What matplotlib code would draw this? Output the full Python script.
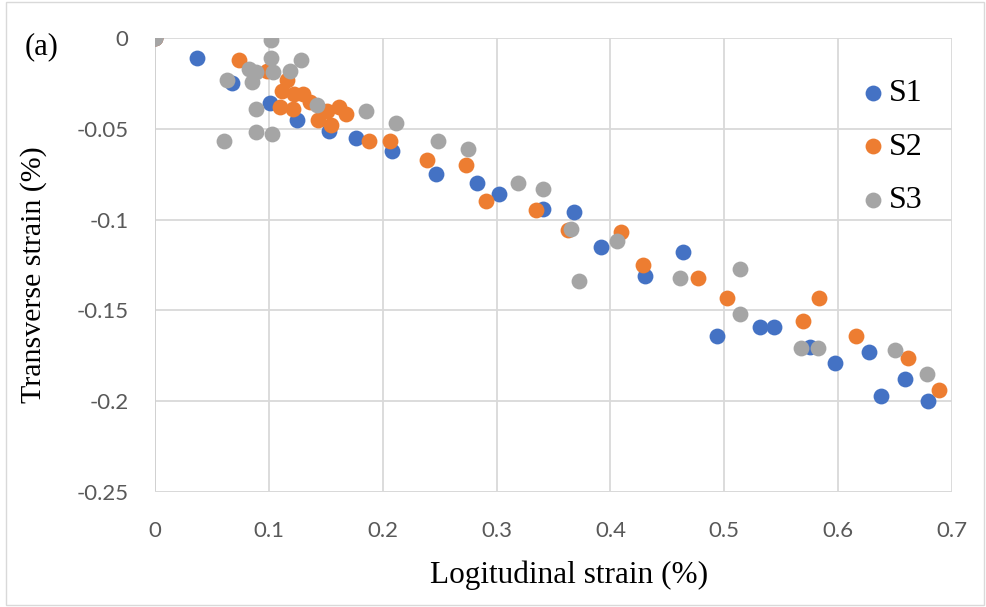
import numpy as np
import matplotlib.pyplot as plt
from matplotlib.patches import Rectangle

# S1
s1_x = [0, 0.037, 0.068, 0.101, 0.125, 0.153, 0.177, 0.208, 0.247, 0.283, 0.302,
        0.341, 0.368, 0.392, 0.430, 0.464, 0.494, 0.531, 0.544, 0.575, 0.597,
        0.627, 0.638, 0.659, 0.679]
s1_y = [0, -0.011, -0.025, -0.036, -0.045, -0.051, -0.055, -0.062, -0.075, -0.080, -0.086,
        -0.094, -0.096, -0.115, -0.131, -0.118, -0.164, -0.159, -0.159, -0.170, -0.179,
        -0.173, -0.197, -0.188, -0.200]

# S2
s2_x = [0, 0.074, 0.098, 0.116, 0.112, 0.122, 0.130, 0.136, 0.110, 0.121, 0.143,
        0.155, 0.151, 0.162, 0.168, 0.188, 0.206, 0.239, 0.273, 0.291, 0.335,
        0.363, 0.409, 0.429, 0.477, 0.502, 0.583, 0.569, 0.616, 0.661, 0.689]
s2_y = [0, -0.012, -0.018, -0.023, -0.029, -0.031, -0.031, -0.035, -0.038, -0.039, -0.045,
        -0.048, -0.040, -0.038, -0.042, -0.057, -0.057, -0.067, -0.070, -0.090, -0.095,
        -0.106, -0.107, -0.125, -0.132, -0.143, -0.143, -0.156, -0.164, -0.176, -0.194]

# S3
s3_x = [0, 0.102, 0.102, 0.128, 0.083, 0.089, 0.104, 0.119, 0.063, 0.085, 0.089,
        0.142, 0.185, 0.089, 0.103, 0.061, 0.212, 0.249, 0.275, 0.319, 0.341,
        0.365, 0.372, 0.406, 0.461, 0.514, 0.514, 0.567, 0.582, 0.650, 0.678]
s3_y = [0, -0.001, -0.011, -0.012, -0.017, -0.019, -0.019, -0.018, -0.023, -0.024, -0.039,
        -0.037, -0.040, -0.052, -0.053, -0.057, -0.047, -0.057, -0.061, -0.080, -0.083,
        -0.105, -0.134, -0.112, -0.132, -0.127, -0.152, -0.171, -0.171, -0.172, -0.185]

series = ["S1", "S2", "S3"]
colors = ["#4472C4", "#ED7D31", "#A5A5A5"]

x_ticks = [0, 0.1, 0.2, 0.3, 0.4, 0.5, 0.6, 0.7]
x_labels = ["0", "0.1", "0.2", "0.3", "0.4", "0.5", "0.6", "0.7"]
y_ticks = [0, -0.05, -0.1, -0.15, -0.2, -0.25]
y_labels = ["0", "-0.05", "-0.1", "-0.15", "-0.2", "-0.25"]

fig = plt.figure(figsize=(9.87, 6.07), dpi=100)
ax = fig.add_axes([0.157, 0.1895, 0.8075, 0.748])

for xs, ys, name, c in zip([s1_x, s2_x, s3_x], [s1_y, s2_y, s3_y], series, colors):
    ax.scatter(xs, ys, s=130, color=c, label=name, linewidths=0, zorder=3)

ax.set_xlim(0, 0.7)
ax.set_ylim(-0.25, 0)
ax.set_xticks(x_ticks)
ax.set_xticklabels(x_labels)
ax.set_yticks(y_ticks)
ax.set_yticklabels(y_labels)
ax.grid(True, color="#d9d9d9", linewidth=1.3, zorder=0)
ax.set_axisbelow(True)
for sp in ax.spines.values():
    sp.set_visible(False)
ax.axvline(0, color="#d0d0d0", linewidth=1.3, zorder=1)
ax.axhline(-0.25, color="#d9d9d9", linewidth=1.3, zorder=1)

ax.tick_params(length=0, labelsize=16, colors="#595959")
ax.tick_params(axis="x", pad=21)
ax.tick_params(axis="y", pad=19)
for lab in ax.get_xticklabels() + ax.get_yticklabels():
    lab.set_family("Lato")

fig.text(0.5765, 0.0527, "Logitudinal strain (%)", fontsize=22.5,
         family="Liberation Serif", ha="center", va="center")
fig.text(0.0344, 0.547, "Transverse strain (%)", fontsize=21.5,
         family="Liberation Serif", ha="center", va="center", rotation=90)

leg = ax.legend(loc="upper left", bbox_to_anchor=(0.8746, 0.870),
                bbox_transform=fig.transFigure, frameon=False, borderpad=0,
                borderaxespad=0, prop={"family": "Liberation Serif", "size": 23},
                handlelength=0.6, handletextpad=0.2, labelspacing=0.75)

fig.text(0.025, 0.923, "(a)", fontsize=22, family="Liberation Serif", va="center")

fig.patches.append(Rectangle((0.006, 0.004), 0.991, 0.993, transform=fig.transFigure,
                             fill=False, edgecolor="#d9d9d9", linewidth=1))

fig.savefig("out.png", dpi=100)
